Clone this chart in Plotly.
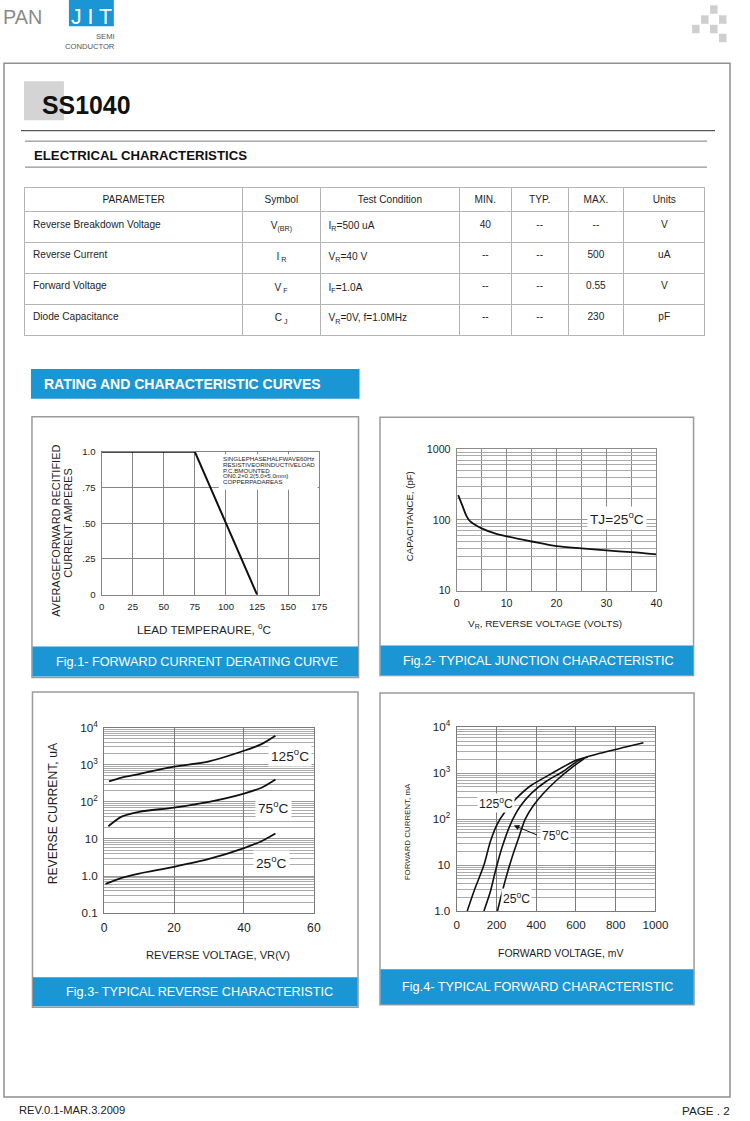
import plotly.graph_objects as go

W, H = 750, 1121
FONT = "Liberation Sans, Arial, Helvetica, sans-serif"
BLUE = "#1b96d4"
INK = "#1e1e1e"

# page-pixel -> paper mapping (compensates the small scale/offset of the photographed page)
SX, OX = 0.98, 2.0
SY, OY = 0.9886, 6.7
FS = 1.015


def X(px):
    return ((px - OX) / SX) / W


def Y(py):
    return 1 - ((py - OY) / SY) / H


def F(s):
    return round(s * FS, 2)


# ---------------- table data ----------------
tbl_header = ["PARAMETER", "Symbol", "Test Condition", "MIN.", "TYP.", "MAX.", "Units"]
tbl_param = ["Reverse Breakdown Voltage", "Reverse Current", "Forward Voltage", "Diode Capacitance"]
tbl_symbol = ["V<sub>(BR)</sub>", "I<sub> R</sub>", "V<sub> F</sub>", "C<sub> J</sub>"]
tbl_cond = ["I<sub>R</sub>=500 uA", "V<sub>R</sub>=40 V", "I<sub>F</sub>=1.0A",
            "V<sub>R</sub>=0V, f=1.0MHz"]
tbl_min = ["40", "--", "--", "--"]
tbl_typ = ["--", "--", "--", "--"]
tbl_max = ["--", "500", "0.55", "230"]
tbl_units = ["V", "uA", "V", "pF"]

# ---------------- Fig.1 derating ----------------
derate_temp = [0, 75, 125]
derate_amp = [1.0, 1.0, 0.0]
fig1_xticks = [0, 25, 50, 75, 100, 125, 150, 175]
fig1_yticks = [0, 0.25, 0.5, 0.75, 1.0]
fig1_ylabels = ["0", ".25", ".50", ".75", "1.0"]
fig1_note = ["SINGLEPHASEHALFWAVE60Hz", "RESISTIVEORINDUCTIVELOAD", "P.C.BMOUNTED",
             "ON0.2\u00d70.2(5.0\u00d75.0mm)", "COPPERPADAREAS"]

# ---------------- Fig.2 capacitance ----------------
cap_vr = [0.3, 1.1, 2.0, 2.7, 3.5, 5, 7.5, 10, 15, 20, 25, 30, 35, 40]
cap_pf = [224, 162, 112, 95, 87, 76, 65, 58.5, 49.5, 42.5, 39.5, 37, 35, 32.5]

# ---------------- Fig.3 reverse current ----------------
rev_vr_125 = [1.4, 5, 10, 20, 30, 40, 45, 49]
rev_ir_125 = [355, 450, 560, 885, 1230, 2370, 3570, 6000]
rev_vr_75 = [1.2, 5, 10, 20, 30, 40, 45, 49]
rev_ir_75 = [22, 40, 54, 70, 100, 167, 240, 400]
rev_vr_25 = [0.4, 5, 10, 20, 30, 40, 45, 49]
rev_ir_25 = [0.62, 0.9, 1.17, 1.78, 2.9, 5.7, 8.7, 14]

# ---------------- Fig.4 forward current ----------------
fwd_mv_125 = [53, 87, 137, 170, 203, 245, 295, 370, 470, 600, 720, 850, 940]
fwd_ma_125 = [1.0, 2.7, 10, 33, 76, 148, 267, 525, 940, 1900, 2700, 3700, 4600]
fwd_mv_75 = [137, 170, 195, 228, 270, 320, 378, 453, 537, 610, 660]
fwd_ma_75 = [1.0, 2.7, 7.4, 24, 76, 190, 372, 675, 1100, 1850, 2250]
fwd_mv_25 = [205, 228, 253, 278, 312, 345, 387, 437, 503, 587, 640]
fwd_ma_25 = [1.0, 2.5, 6.3, 14.5, 39, 100, 200, 365, 700, 1400, 2050]


def log_minor(lo, hi):
    vals = []
    for e in range(lo, hi):
        for k in range(2, 10):
            vals.append(k * 10.0 ** e)
    return vals


fig = go.Figure()

# table
fig.add_trace(go.Table(
    domain=dict(x=[X(24), X(705)], y=[Y(336), Y(186)]),
    columnwidth=[217.5, 78.5, 139, 52, 57, 55.5, 81.5],
    header=dict(values=tbl_header, align="center", height=24.5 / SY,
                line=dict(color="#b4b4b4", width=1), fill=dict(color="white"),
                font=dict(family=FONT, size=F(10), color=INK)),
    cells=dict(values=[tbl_param, tbl_symbol, tbl_cond, tbl_min, tbl_typ, tbl_max, tbl_units],
               align=["left", "center", "left", "center", "center", "center", "center"],
               height=30.5 / SY, line=dict(color="#b4b4b4", width=1), fill=dict(color="white"),
               font=dict(family=FONT, size=F(10), color=INK)),
))

curve = dict(color="#111111", width=1.8, shape="spline", smoothing=0.8)
fig.add_trace(go.Scatter(x=derate_temp, y=derate_amp, xaxis="x", yaxis="y", mode="lines",
                         line=dict(color="#111111", width=2), hoverinfo="skip", showlegend=False))
fig.add_trace(go.Scatter(x=cap_vr, y=cap_pf, xaxis="x2", yaxis="y2", mode="lines",
                         line=curve, hoverinfo="skip", showlegend=False))
for xs, ys in [(rev_vr_125, rev_ir_125), (rev_vr_75, rev_ir_75), (rev_vr_25, rev_ir_25)]:
    fig.add_trace(go.Scatter(x=xs, y=ys, xaxis="x3", yaxis="y3", mode="lines",
                             line=curve, hoverinfo="skip", showlegend=False))
for xs, ys in [(fwd_mv_125, fwd_ma_125), (fwd_mv_75, fwd_ma_75), (fwd_mv_25, fwd_ma_25)]:
    fig.add_trace(go.Scatter(x=xs, y=ys, xaxis="x4", yaxis="y4", mode="lines",
                             line=dict(color="#111111", width=1.6, shape="spline", smoothing=0.8),
                             hoverinfo="skip", showlegend=False))

common = dict(showgrid=True, gridwidth=1, zeroline=False, showline=True, mirror=True,
              linewidth=1, ticks="outside", ticklen=3, tickcolor="rgba(0,0,0,0)",
              fixedrange=True)
minor_log = dict(showgrid=True, gridcolor="#ababab", gridwidth=1, ticks="")

fig.update_layout(
    width=W, height=H, margin=dict(l=0, r=0, t=0, b=0),
    paper_bgcolor="white", plot_bgcolor="rgba(0,0,0,0)",
    font=dict(family=FONT, color=INK),
    showlegend=False,
    xaxis=dict(common, domain=[X(100.7), X(318.7)], range=[0, 175], anchor="y",
               tickvals=fig1_xticks, gridcolor="#858585", linecolor="#858585",
               tickfont=dict(size=F(9.5), color=INK)),
    yaxis=dict(common, domain=[Y(594), Y(451)], range=[0, 1.0], anchor="x",
               tickvals=fig1_yticks, ticktext=fig1_ylabels, gridcolor="#858585",
               linecolor="#858585", tickfont=dict(size=F(9.5), color=INK)),
    xaxis2=dict(common, domain=[X(456.3), X(656.3)], range=[0, 40], anchor="y2",
                tickvals=[0, 10, 20, 30, 40],
                minor=dict(tickvals=[5, 15, 25, 35], showgrid=True, gridcolor="#8a8a8a", ticks=""),
                gridcolor="#8a8a8a", linecolor="#8a8a8a", tickfont=dict(size=F(10.5), color=INK)),
    yaxis2=dict(common, domain=[Y(590), Y(448.3)], type="log", range=[1, 3], anchor="x2",
                tickvals=[10, 100, 1000], ticktext=["10", "100", "1000"],
                minor=dict(minor_log, tickvals=log_minor(1, 3)),
                gridcolor="#999999", linecolor="#8a8a8a", tickfont=dict(size=F(10.5), color=INK)),
    xaxis3=dict(common, domain=[X(103.3), X(313.3)], range=[0, 60], anchor="y3",
                tickvals=[0, 20, 40, 60], gridcolor="#7a7a7a", linecolor="#7a7a7a",
                tickfont=dict(size=F(12), color=INK)),
    yaxis3=dict(common, domain=[Y(913), Y(727)], type="log", range=[-1, 4], anchor="x3",
                tickvals=[0.1, 1, 10, 100, 1000, 10000],
                ticktext=["0.1", "1.0", "10", "10<sup>2</sup>", "10<sup>3</sup>", "10<sup>4</sup>"],
                minor=dict(minor_log, tickvals=log_minor(-1, 4)),
                gridcolor="#999999", linecolor="#7a7a7a", tickfont=dict(size=F(11.5), color=INK)),
    xaxis4=dict(common, domain=[X(456.3), X(655.3)], range=[0, 1000], anchor="y4",
                tickvals=[0, 200, 400, 600, 800, 1000], gridcolor="#7a7a7a",
                linecolor="#7a7a7a", tickfont=dict(size=F(11.5), color=INK)),
    yaxis4=dict(common, domain=[Y(910.7), Y(726.7)], type="log", range=[0, 4], anchor="x4",
                tickvals=[1, 10, 100, 1000, 10000],
                ticktext=["1.0", "10", "10<sup>2</sup>", "10<sup>3</sup>", "10<sup>4</sup>"],
                minor=dict(minor_log, tickvals=log_minor(0, 4)),
                gridcolor="#999999", linecolor="#7a7a7a", tickfont=dict(size=F(11.5), color=INK)),
)

shapes = []


def rect(x0, y0, x1, y1, fill=None, line=None, lw=1, layer="above"):
    shapes.append(dict(type="rect", xref="paper", yref="paper", x0=X(x0), x1=X(x1),
                       y0=Y(y1), y1=Y(y0), fillcolor=fill or "rgba(0,0,0,0)",
                       line=dict(color=line or "rgba(0,0,0,0)", width=lw if line else 0),
                       layer=layer))


def hline(x0, x1, y, color, lw=1):
    shapes.append(dict(type="line", xref="paper", yref="paper", x0=X(x0), x1=X(x1),
                       y0=Y(y), y1=Y(y), line=dict(color=color, width=lw)))


# logo
rect(68, -8, 113, 25, fill=BLUE)
for (a, b, c, d) in [(710, 4, 717.5, 12.5), (701, 14, 708.5, 22.5), (719, 14, 726.5, 22.5),
                     (692, 23.5, 699.5, 32), (710, 23.5, 717.5, 32), (719, 32.5, 726.5, 41)]:
    rect(a, b, c, d, fill="#cfcfcf")

# page frame & header
rect(3, 62, 730, 1097, line="#8f8f8f", lw=1.5, layer="below")
rect(23, 80, 63, 119, fill="#d4d4d4", layer="below")
hline(20, 715, 129.5, "#5a5a5a", 1.2)
hline(24, 707, 140, "#7a7a7a", 1)
hline(24, 707, 166, "#7a7a7a", 1)
rect(30, 368, 359, 398, fill=BLUE)

# panels
for (a, b, c, d), (e, f, g, h) in [((31, 416, 358, 677), (31.5, 646, 357.5, 676)),
                                   ((379.5, 416.5, 693.5, 675), (380, 645, 693, 674.5)),
                                   ((31.5, 691.5, 357.5, 1007), (32, 977, 357, 1006)),
                                   ((379.5, 692.5, 694, 1004.5), (380, 969, 693.5, 1004))]:
    rect(a, b, c, d, line="#9b9b9b", lw=1.5, layer="below")
    rect(e, f, g, h, fill=BLUE)

# note box in fig 1
rect(218, 453.5, 317, 489, fill="white", layer="above")

fig.update_layout(shapes=shapes)

anns = []


def ann(text, x, y, size, color=INK, xanchor="center", bold=False, angle=0, bg=None,
        pad=0, family=FONT):
    anns.append(dict(text=f"<b>{text}</b>" if bold else text, xref="paper", yref="paper",
                     x=X(x), y=Y(y), xanchor=xanchor, yanchor="middle", showarrow=False,
                     font=dict(family=family, size=F(size), color=color), textangle=angle,
                     bgcolor=bg or "rgba(0,0,0,0)", borderpad=pad))


# logo text
ann("PAN", 1, 15.5, 19.5, color="#8a8a8a", xanchor="left")
ann("J I T", 90.5, 15.5, 21, color="white")
ann("SEMI", 115, 35, 7.5, color="#555555", xanchor="right")
ann("CONDUCTOR", 115, 45, 7.5, color="#555555", xanchor="right")

ann("SS1040", 40, 104, 24.5, color="#111111", xanchor="left", bold=True)
ann("ELECTRICAL CHARACTERISTICS", 32, 154, 13, color="#111111", xanchor="left", bold=True)
ann("RATING AND CHARACTERISTIC CURVES", 42, 383, 13.8, color="white", xanchor="left", bold=True)

# captions
ann("Fig.1- FORWARD CURRENT DERATING CURVE", 196.5, 661.5, 12.5, color="white")
ann("Fig.2- TYPICAL JUNCTION CHARACTERISTIC", 538, 660, 12.5, color="white")
ann("Fig.3- TYPICAL REVERSE CHARACTERISTIC", 198.5, 992, 12.5, color="white")
ann("Fig.4- TYPICAL FORWARD CHARACTERISTIC", 537, 986.5, 12.5, color="white")

# fig 1 text
ann("AVERAGEFORWARD RECITIFIED", 55, 530, 10.8, angle=-90)
ann("CURRENT AMPERES", 67, 522, 10.8, angle=-90)
ann("LEAD TEMPERAURE, <sup>o</sup>C", 203, 628, 11.5)
for i, line in enumerate(fig1_note):
    ann(line, 221.5, 457.8 + i * 5.8, 6.1, xanchor="left")

# fig 2 text
ann("CAPACITANCE, (pF)", 409, 515, 9.5, angle=-90)
ann("V<sub>R</sub>, REVERSE VOLTAGE (VOLTS)", 545, 623.5, 9.8)
ann("TJ=25<sup>o</sup>C", 617, 517, 13.5, bg="white", pad=2)

# fig 3 text
ann("REVERSE CURRENT, uA", 52, 813, 12, angle=-90)
ann("REVERSE VOLTAGE, VR(V)", 217, 954.5, 11)
ann("125<sup>o</sup>C", 289, 755, 13.5, bg="white", pad=2)
ann("75<sup>o</sup>C", 273, 807, 13.5, bg="white", pad=2)
ann("25<sup>o</sup>C", 271, 862, 13.5, bg="white", pad=2)

# fig 4 text
ann("FORWARD CURRENT, mA", 406.5, 831, 7.8, angle=-90)
ann("FORWARD VOLTAGE, mV", 560.5, 953.5, 10.3)
ann("125<sup>o</sup>C", 496, 802.5, 12, bg="white", pad=1)
ann("75<sup>o</sup>C", 555, 835, 12, bg="white", pad=1)
ann("25<sup>o</sup>C", 516.5, 897.5, 12, bg="white", pad=1)
anns.append(dict(text="", xref="paper", yref="paper", x=X(513.5), y=Y(825), ax=24 / SX,
                 ay=10 / SY, showarrow=True, arrowhead=2, arrowsize=1.1, arrowwidth=1,
                 arrowcolor="#111111", standoff=0))

# footer
ann("REV.0.1-MAR.3.2009", 17, 1110, 11, color="#222222", xanchor="left")
ann("PAGE . 2", 731, 1110, 11.5, color="#222222", xanchor="right")

fig.update_layout(annotations=anns)

fig.write_html(
    "out.html",
    config={"displayModeBar": False, "staticPlot": True},
    post_script="document.body.style.margin='0px';document.body.style.overflow='hidden';",
)
